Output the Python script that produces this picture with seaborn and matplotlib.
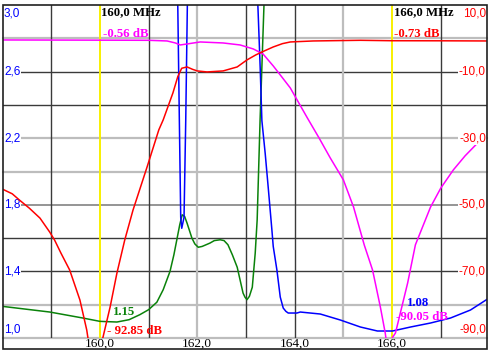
import matplotlib
matplotlib.use("Agg")
import matplotlib.pyplot as plt
import matplotlib.transforms as mtransforms
from matplotlib.patches import Rectangle
import seaborn as sns
import pandas as pd

# -----------------------------
# Data
# -----------------------------
# red trace, dB (right axis)
red_freq = [158.0, 158.2, 158.35, 158.55, 158.77, 158.97, 159.07, 159.2, 159.38, 159.59,
            159.73, 159.76, 159.88, 160.0, 160.06, 160.21, 160.35, 160.51, 160.68, 160.97,
            161.21, 161.30, 161.50, 161.6, 161.68, 161.79, 161.9, 162.0, 162.2, 162.53,
            162.82, 163.02, 163.2, 163.33, 163.56, 163.75, 163.91, 164.38, 165.35, 166.0,
            167.0, 168.0]
red_db = [-45.3, -46.7, -48.6, -51.0, -54.0, -58.2, -60.6, -64.5, -69.6, -78.6,
          -87.6, -90.5, -97.0, -92.85, -90.0, -80.7, -70.5, -60.6, -51.6, -38.6,
          -27.5, -24.5, -16.4, -11.5, -9.0, -8.6, -9.3, -9.8, -10.1, -9.8,
          -8.6, -6.5, -5.0, -4.1, -2.6, -1.6, -1.1, -0.8, -0.6, -0.73,
          -0.75, -0.8]

# magenta trace, dB (right axis)
mag_freq = [158.0, 160.0, 161.0, 161.38, 161.55, 161.65, 161.79, 162.06, 162.53, 162.88,
            163.15, 163.35, 163.56, 163.72, 163.91, 164.26, 164.5, 164.73, 165.0, 165.21,
            165.43, 165.6, 165.76, 165.86, 165.93, 166.0, 166.07, 166.17, 166.32, 166.48,
            166.79, 167.0, 167.26, 167.5, 167.76, 168.0]
mag_db = [-0.5, -0.56, -0.6, -0.8, -1.4, -2.0, -1.7, -1.1, -1.4, -2.0,
          -3.2, -4.7, -8.3, -11.3, -14.9, -23.9, -29.9, -35.9, -42.5, -50.7,
          -62.1, -69.6, -80.7, -88.5, -96.0, -90.05, -88.5, -82.5, -73.5, -62.0,
          -50.7, -45.0, -39.5, -35.3, -31.4, -28.4]

# blue trace, VSWR (left axis)
blue_freq = [158.0, 160.0, 161.4, 161.6, 161.632, 161.66, 161.681, 161.728, 161.763,
             161.796, 162.0, 162.6, 163.1, 163.245, 163.292, 163.327, 163.395, 163.457,
             163.533, 163.56, 163.636, 163.704, 163.765, 163.82, 163.868, 164.047,
             164.115, 164.527, 164.938, 165.35, 165.70, 166.01, 166.38, 166.79,
             167.20, 167.61, 167.96]
blue_swr = [9.0, 8.0, 4.5, 2.99, 2.305, 1.725, 1.659, 1.725, 2.305,
            2.994, 4.5, 6.0, 4.0, 2.994, 2.623, 2.305, 2.108, 1.904,
            1.647, 1.55, 1.407, 1.246, 1.18, 1.16, 1.15, 1.15,
            1.156, 1.144, 1.108, 1.066, 1.042, 1.042, 1.066, 1.09,
            1.12, 1.168, 1.234]

# green trace, VSWR (left axis)
green_freq = [158.0, 158.97, 159.65, 160.0, 160.35, 160.6, 160.82, 161.0, 161.17, 161.3,
              161.44, 161.52, 161.58, 161.64, 161.69, 161.74, 161.79, 161.89, 161.95, 162.02,
              162.1, 162.26, 162.35, 162.47, 162.55, 162.63, 162.72, 162.82, 162.94, 162.98,
              163.02, 163.07, 163.13, 163.19, 163.23, 163.29, 163.37, 163.5, 168.0]
green_swr = [1.19, 1.156, 1.12, 1.10, 1.096, 1.11, 1.14, 1.17, 1.215, 1.29,
             1.40, 1.50, 1.59, 1.68, 1.74, 1.73, 1.69, 1.60, 1.565, 1.545,
             1.55, 1.57, 1.585, 1.59, 1.585, 1.56, 1.50, 1.425, 1.27, 1.245,
             1.23, 1.25, 1.305, 1.51, 1.71, 2.31, 3.0, 4.0, 9.0]

# axis labels / grid
x_ticks = [160.0, 162.0, 164.0, 166.0]
left_ticks = [3.0, 2.6, 2.2, 1.8, 1.4, 1.0]
right_ticks = [10.0, -10.0, -30.0, -50.0, -70.0, -90.0]
grid_dark_y = [2.6, 2.4, 1.6, 1.4]
grid_mid_y = [1.8]
grid_light_y = [2.8, 2.2, 2.0, 1.2, 1.0]
grid_dark_x = [159, 161, 163, 164, 167]
grid_light_x = [162, 165]

# markers
marker_freqs = [160.0, 166.0]
marker_green = ["1.15", "1.08"]
marker_db = ["-0.56 dB", "-0.73 dB"]
marker_notch = ["- 92.85 dB", "-90.05 dB"]

RED = "#ff0000"
MAGENTA = "#ff00ff"
BLUE = "#0000ff"
GREEN = "#0a820a"
YELLOW = "#f8f000"

def comma(v):
    return f"{v:.1f}".replace(".", ",")

# -----------------------------
# Figure
# -----------------------------
sns.set_style("white")
plt.rcParams["font.family"] = ["Liberation Sans", "DejaVu Sans"]

fig = plt.figure(figsize=(4.9, 3.53), dpi=100)
ax = fig.add_axes([2.5 / 490, 15 / 353, 484.5 / 490, 333 / 353])
ax2 = ax.twinx()

# grid
for y in grid_dark_y:
    ax.axhline(y, color="#3a3a3a", lw=1.0, zorder=0.5)
for y in grid_mid_y:
    ax.axhline(y, color="#8c8c8c", lw=1.3, zorder=0.5)
for y in grid_light_y:
    ax.axhline(y, color="#bdbdbd", lw=1.6, zorder=0.5, clip_on=False)
for x in grid_dark_x:
    ax.axvline(x, color="#3a3a3a", lw=1.0, zorder=0.5)
for x in grid_light_x:
    ax.axvline(x, color="#bdbdbd", lw=1.6, zorder=0.5)
for x in marker_freqs:
    ax.axvline(x, color=YELLOW, lw=1.4, zorder=0.6)

# traces
lw = 1.1
sns.lineplot(x=green_freq, y=green_swr, ax=ax, color=GREEN, lw=lw,
             sort=False, estimator=None, legend=False)
sns.lineplot(x=blue_freq, y=blue_swr, ax=ax, color=BLUE, lw=lw,
             sort=False, estimator=None, legend=False)
sns.lineplot(x=mag_freq, y=mag_db, ax=ax2, color=MAGENTA, lw=lw,
             sort=False, estimator=None, legend=False)
sns.lineplot(x=red_freq, y=red_db, ax=ax2, color=RED, lw=lw,
             sort=False, estimator=None, legend=False)

ax.set_xlim(158.0, 167.95)
ax.set_ylim(1.0, 3.0)
ax2.set_ylim(-90.0, 10.0)
for a in (ax, ax2):
    a.set_xticks([])
    a.set_yticks([])
    a.set_xlabel("")
    a.set_ylabel("")
    for s in a.spines.values():
        s.set_visible(False)

# tick labels, drawn inside the frame like on the instrument
tick_font = dict(family=["Liberation Sans", "DejaVu Sans"], fontsize=8.5)
left_tr = mtransforms.blended_transform_factory(ax.transAxes, ax.transData)
right_tr = mtransforms.blended_transform_factory(ax2.transAxes, ax2.transData)
box = dict(facecolor="white", edgecolor="none", pad=0.6)

for i, v in enumerate(left_ticks):
    dy = -9 if i == 0 else (9 if i == len(left_ticks) - 1 else 0)
    tr = mtransforms.offset_copy(left_tr, fig=fig, x=1.5, y=dy, units="dots")
    ax.text(0, v, comma(v), transform=tr, color=BLUE, ha="left", va="center",
            bbox=box, zorder=5, **tick_font)

for i, v in enumerate(right_ticks):
    dy = -9 if i == 0 else (9 if i == len(right_ticks) - 1 else 0)
    tr = mtransforms.offset_copy(right_tr, fig=fig, x=-1.0, y=dy, units="dots")
    ax2.text(1, v, comma(v), transform=tr, color=RED, ha="right", va="center",
             bbox=box, zorder=5, **tick_font)

bottom_tr = mtransforms.blended_transform_factory(ax.transData, ax.transAxes)
for v in x_ticks:
    tr = mtransforms.offset_copy(bottom_tr, fig=fig, y=-6, units="dots")
    ax.text(v, 0, comma(v), transform=tr, color="black", ha="center", va="center",
            family=["Liberation Serif", "DejaVu Serif"], fontsize=9.5, clip_on=False)

# marker readouts
mk_font = dict(family=["Liberation Serif", "DejaVu Serif"], fontsize=9.2, fontweight="bold")
marker_colors_db = [MAGENTA, RED]
marker_colors_notch = [RED, MAGENTA]
marker_colors_swr = [GREEN, BLUE]
offsets = [
    # (MHz dx, dB dx, swr dx, swr y, notch dx, notch y)
    (1, 3, 13, 0.069, 7, 0.012),
    (2, 2, 15, 0.096, 4, 0.054),
]
for i, f in enumerate(marker_freqs):
    mhz_dx, db_dx, swr_dx, swr_y, n_dx, n_y = offsets[i]
    tr = mtransforms.offset_copy(bottom_tr, fig=fig, x=mhz_dx, units="dots")
    ax.text(f, 0.997, f"{comma(f)} MHz", transform=tr, color="black",
            ha="left", va="top", zorder=6, **mk_font)
    tr = mtransforms.offset_copy(bottom_tr, fig=fig, x=db_dx, units="dots")
    ax.text(f, 0.904, marker_db[i], transform=tr, color=marker_colors_db[i],
            ha="left", va="baseline", zorder=6, **mk_font)
    tr = mtransforms.offset_copy(bottom_tr, fig=fig, x=swr_dx, units="dots")
    ax.text(f, swr_y, marker_green[i], transform=tr, color=marker_colors_swr[i],
            ha="left", va="baseline", zorder=6, **mk_font)
    tr = mtransforms.offset_copy(bottom_tr, fig=fig, x=n_dx, units="dots")
    ax.text(f, n_y, marker_notch[i], transform=tr, color=marker_colors_notch[i],
            ha="left", va="baseline", zorder=6, **mk_font)

# outer frame (extends below the plot to hold the frequency labels)
fig.add_artist(Rectangle((2.5 / 490, 4 / 353), 484.5 / 490, 344.5 / 353,
                         transform=fig.transFigure, fill=False,
                         edgecolor="#202020", lw=1.2, zorder=10))

fig.savefig("out.png", dpi=100)
